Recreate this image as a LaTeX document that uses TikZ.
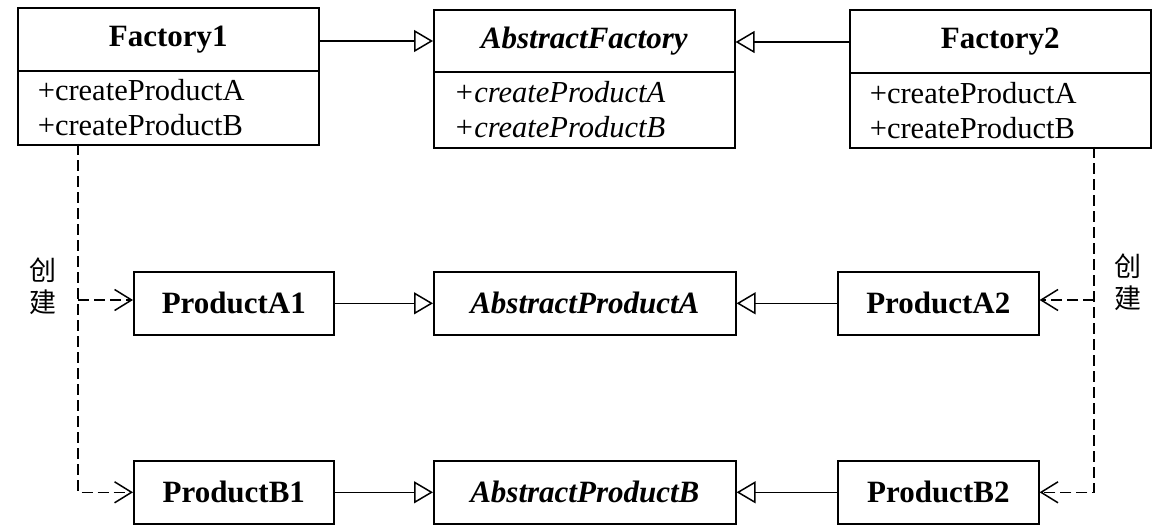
\documentclass[tikz,border=0pt]{standalone}
\usepackage{fontspec}
\setmainfont{Liberation Serif}
\newfontfamily\cjk{Noto Sans CJK SC}
\usetikzlibrary{arrows.meta}
\tikzset{
  base/.style={draw, line width=1.6pt, inner sep=0pt, anchor=north west, font=\fontsize{30.5}{35}\selectfont},
  head/.style={base, font=\fontsize{31}{35}\selectfont\bfseries},
  ahead/.style={base, font=\fontsize{31}{35}\selectfont\bfseries\itshape},
  body/.style={base, align=left, inner xsep=20pt},
  gen/.style={line width=1.5pt, -{Triangle[open, length=19pt, width=22pt, line width=1.5pt]}},
  dep/.style={line width=1.5pt, dash pattern=on 11pt off 5pt, -{Straight Barb[length=17pt, width=21pt, line width=1.5pt]}},
  cn/.style={font=\cjk\fontsize{27}{32}\selectfont, align=center, inner sep=0pt}
}
\begin{document}
\begin{tikzpicture}[x=1pt,y=-1pt]
\useasboundingbox (0,0) rectangle (1167,532);
\fill[white] (0,0) rectangle (1167,532);
% top row
\node[head, minimum width=301pt, minimum height=63pt] (f1h) at (17,7) {Factory1};
\node[body, minimum width=301pt, minimum height=74pt, text width=261pt] (f1b) at (17,70) {+createProductA\\+createProductB};
\node[ahead, minimum width=301pt, minimum height=62pt] (afh) at (433,9) {AbstractFactory};
\node[body, minimum width=301pt, minimum height=76pt, text width=261pt, font=\fontsize{30.5}{35}\selectfont\itshape] (afb) at (433,71) {+createProductA\\+createProductB};
\node[head, minimum width=301pt, minimum height=63pt] (f2h) at (849,9) {Factory2};
\node[body, minimum width=301pt, minimum height=75pt, text width=261pt] (f2b) at (849,72) {+createProductA\\+createProductB};
% row A
\node[head, minimum width=200pt, minimum height=63pt] (pa1) at (133,271) {ProductA1};
\node[ahead, minimum width=302pt, minimum height=63pt] (apa) at (433,271) {AbstractProductA};
\node[head, minimum width=201pt, minimum height=63pt] (pa2) at (837,271) {ProductA2};
% row B
\node[head, minimum width=200pt, minimum height=63pt] (pb1) at (133,460) {ProductB1};
\node[ahead, minimum width=302pt, minimum height=63pt] (apb) at (433,460) {AbstractProductB};
\node[head, minimum width=201pt, minimum height=63pt] (pb2) at (837,460) {ProductB2};
% generalizations
\coordinate (t1) at (318,41);
\draw[gen] (t1) -- (t1 -| afh.west);
\coordinate (t2) at (849,42);
\draw[gen] (t2) -- (t2 -| afh.east);
\draw[gen] (pa1.east) -- (apa.west);
\draw[gen] (pa2.west) -- (apa.east);
\draw[gen] (pb1.east) -- (apb.west);
\draw[gen] (pb2.west) -- (apb.east);
% dependencies left
\coordinate (l0) at (78,144);
\coordinate (la) at (78,300);
\draw[dep] (l0) |- (pb1.west);
\draw[dep] (la) -- (la -| pa1.west);
% dependencies right
\coordinate (r0) at (1094,147);
\coordinate (ra) at (1094,300);
\draw[dep] (r0) |- (pb2.east);
\draw[dep] (ra) -- (ra -| pa2.east);
% labels
\node[cn] (cl) at (43,286) {创\\建};
\node[cn] (cr) at (1128,282) {创\\建};
\end{tikzpicture}
\end{document}
